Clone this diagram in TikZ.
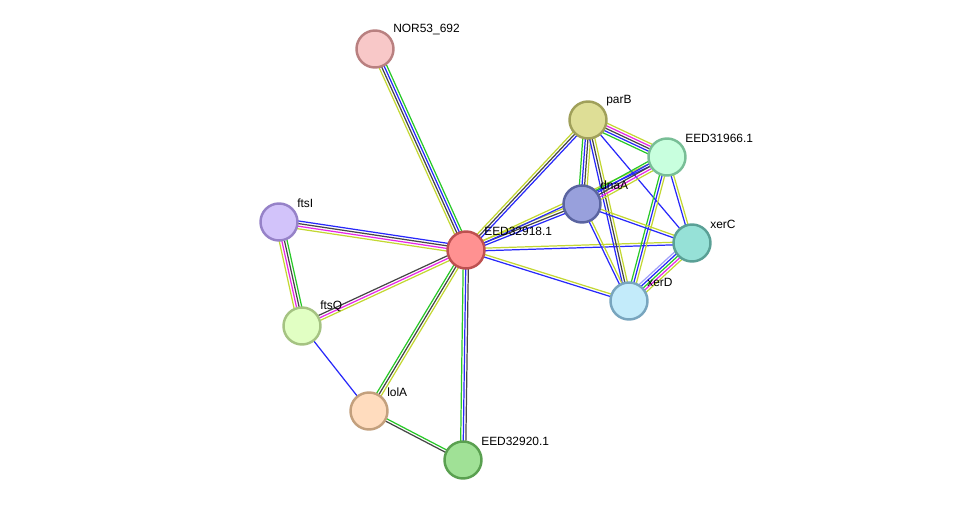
\documentclass[tikz,border=0pt]{standalone}
\usepackage{fontspec}
\setmainfont{Liberation Sans}
\usepackage{xcolor}
\usetikzlibrary{calc,backgrounds}

\definecolor{sgreen}{RGB}{40,200,40}
\definecolor{sblue}{RGB}{40,40,250}
\definecolor{sblack}{RGB}{70,70,70}
\definecolor{smagenta}{RGB}{230,40,230}
\definecolor{syellow}{RGB}{195,215,50}
\definecolor{shomol}{RGB}{160,160,250}

\tikzset{
  gene/.style={draw,circle,minimum size=0.74cm,inner sep=0pt,line width=1.4pt},
  lbl/.style={font=\fontsize{6.8}{8}\selectfont,inner sep=0.5pt,label distance=2.5pt,yshift=-2.3pt},
  link/.style={line width=0.7pt}
}

\newcommand{\strlink}[3]{%
  \foreach \c [count=\i] in {#3} {\xdef\nlinks{\i}}
  \foreach \c [count=\i] in {#3} {
    \pgfmathsetmacro\off{(\i-(\nlinks+1)/2)*0.052}
    \draw[link,\c] ($(#1)!\off cm!90:(#2)$) -- ($(#2)!\off cm!-90:(#1)$);
  }
}

\begin{document}
\begin{tikzpicture}[x=0.02cm,y=-0.02cm]
    \useasboundingbox (0,0) rectangle (975,506);
    \node[gene,fill={rgb,255:red,248;green,200;blue,200},draw={rgb,255:red,185;green,128;blue,128},label={[lbl]45:NOR53\_692}] (nor) at (375,49) {};
    \node[gene,fill={rgb,255:red,222;green,222;blue,150},draw={rgb,255:red,160;green,160;blue,90},label={[lbl]45:parB}] (parB) at (588,120) {};
    \node[gene,fill={rgb,255:red,200;green,255;blue,222},draw={rgb,255:red,120;green,190;blue,150},label={[lbl]45:EED31966.1}] (e966) at (667,157) {};
    \node[gene,fill={rgb,255:red,152;green,160;blue,220},draw={rgb,255:red,90;green,100;blue,160},label={[lbl]45:dnaA}] (dnaA) at (582,204) {};
    \node[gene,fill={rgb,255:red,210;green,195;blue,250},draw={rgb,255:red,150;green,130;blue,200},label={[lbl]45:ftsI}] (ftsI) at (279,222) {};
    \node[gene,fill={rgb,255:red,255;green,145;blue,145},draw={rgb,255:red,190;green,80;blue,80},label={[lbl]45:EED32918.1}] (e918) at (466,250) {};
    \node[gene,fill={rgb,255:red,150;green,225;blue,215},draw={rgb,255:red,90;green,160;blue,150},label={[lbl]45:xerC}] (xerC) at (692,243) {};
    \node[gene,fill={rgb,255:red,195;green,235;blue,250},draw={rgb,255:red,120;green,165;blue,190},label={[lbl]45:xerD}] (xerD) at (629,301) {};
    \node[gene,fill={rgb,255:red,225;green,255;blue,195},draw={rgb,255:red,165;green,195;blue,130},label={[lbl]45:ftsQ}] (ftsQ) at (302,326) {};
    \node[gene,fill={rgb,255:red,255;green,220;blue,190},draw={rgb,255:red,195;green,160;blue,125},label={[lbl]45:lolA}] (lolA) at (369,411) {};
    \node[gene,fill={rgb,255:red,160;green,225;blue,150},draw={rgb,255:red,90;green,160;blue,80},label={[lbl]45:EED32920.1}] (e920) at (463,460) {};
    \begin{scope}[on background layer]
    \strlink{e918}{nor}{sgreen,sblue,sblack,syellow}
    \strlink{e918}{ftsI}{sblue,sblack,smagenta,syellow}
    \strlink{e918}{ftsQ}{sblack,smagenta,syellow}
    \strlink{e918}{lolA}{sgreen,sblack,syellow}
    \strlink{e918}{e920}{sgreen,sblue,sblack}
    \strlink{e918}{parB}{sblue,sblack,syellow}
    \strlink{e918}{dnaA}{sblue,sblack,syellow}
    \strlink{e918}{e966}{sblue,syellow}
    \strlink{e918}{xerC}{sblue,syellow}
    \strlink{e918}{xerD}{sblue,syellow}
    \strlink{ftsI}{ftsQ}{syellow,smagenta,sblack,sgreen}
    \strlink{ftsQ}{lolA}{sblue}
    \strlink{lolA}{e920}{sblack,sgreen}
    \strlink{parB}{e966}{sgreen,sblue,sblack,smagenta,syellow}
    \strlink{parB}{dnaA}{sgreen,sblue,sblack,syellow}
    \strlink{parB}{xerD}{sblue,sblack,syellow}
    \strlink{parB}{xerC}{sblue}
    \strlink{e966}{dnaA}{sgreen,sblue,sblack,smagenta,syellow}
    \strlink{e966}{xerC}{sblue,syellow}
    \strlink{e966}{xerD}{sgreen,sblue,syellow}
    \strlink{dnaA}{xerC}{sblue,syellow}
    \strlink{dnaA}{xerD}{sblue,syellow}
    \strlink{xerC}{xerD}{shomol,sblue,sgreen,smagenta,syellow}
    \end{scope}
\end{tikzpicture}
\end{document}
